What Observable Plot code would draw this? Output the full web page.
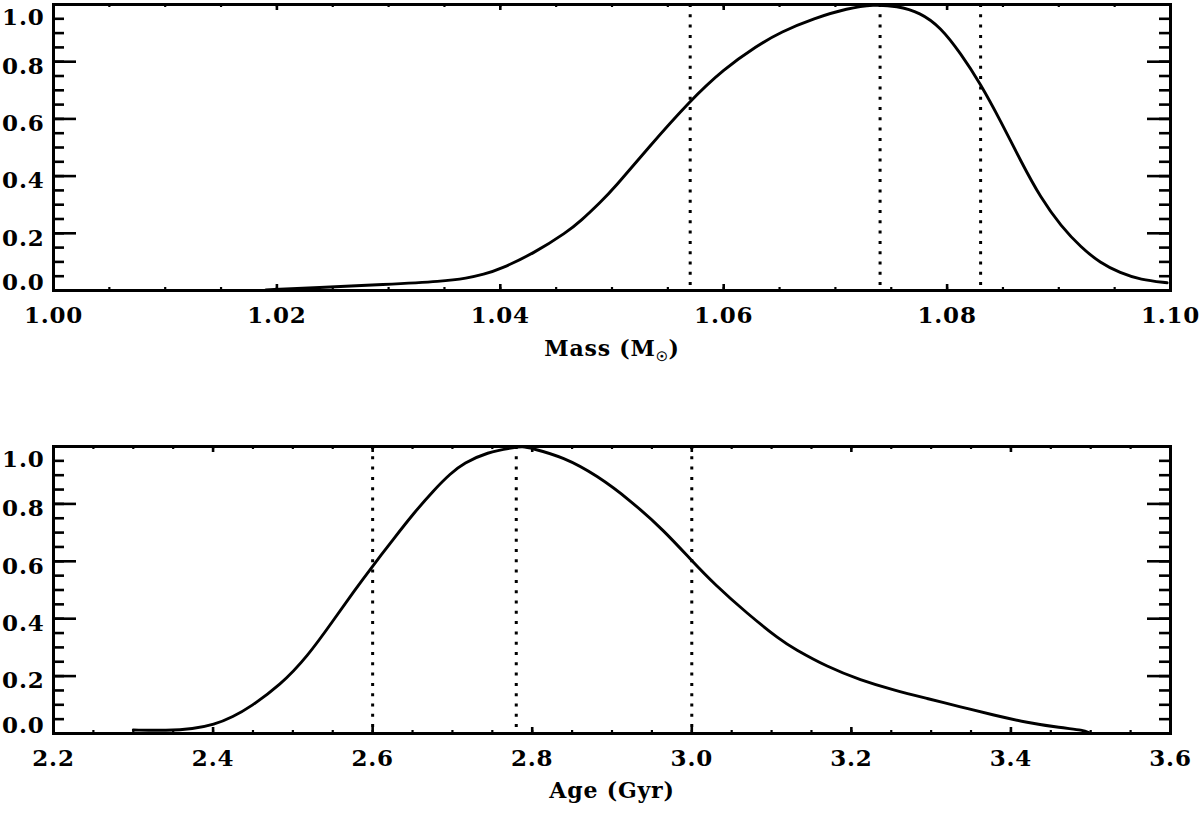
<!DOCTYPE html>
<html>
<head>
<meta charset="utf-8">
<script src="https://cdn.jsdelivr.net/npm/d3@7"></script>
<script src="https://cdn.jsdelivr.net/npm/@observablehq/plot@0.6"></script>
<style>
  html, body { margin: 0; padding: 0; background: #fff; }
  #chart { width: 1200px; }
  #chart svg { display: block; }
  #chart svg text { letter-spacing: 0.8px; }
</style>
</head>
<body>
<div id="chart"></div>
<script>
// ---- Data ----
const massX = [1.019, 1.0236, 1.0296, 1.0349, 1.0370, 1.0385, 1.0400, 1.0430, 1.0460, 1.0472, 1.0490, 1.0502, 1.0532, 1.0570, 1.0600, 1.0630, 1.0651, 1.0681, 1.0711, 1.0734, 1.0755, 1.0776, 1.0794, 1.0812, 1.0830, 1.0848, 1.0866, 1.0884, 1.0902, 1.0920, 1.0937, 1.0955, 1.0973, 1.0997];
const massY = [0.002, 0.010, 0.021, 0.032, 0.043, 0.056, 0.075, 0.130, 0.205, 0.243, 0.310, 0.358, 0.497, 0.664, 0.774, 0.856, 0.904, 0.952, 0.987, 1.000, 0.995, 0.972, 0.921, 0.830, 0.722, 0.592, 0.452, 0.322, 0.225, 0.150, 0.097, 0.061, 0.038, 0.027];
const massMarkers = [1.057, 1.074, 1.083];

const ageX = [2.300, 2.3425, 2.375, 2.401, 2.425, 2.447, 2.4845, 2.518, 2.551, 2.576, 2.6007, 2.6265, 2.6516, 2.6767, 2.6976, 2.7142, 2.7435, 2.7769, 2.7880, 2.7978, 2.8395, 2.8813, 2.9231, 2.9649, 2.9996, 3.0276, 3.0694, 3.1112, 3.1279, 3.1697, 3.2114, 3.2532, 3.295, 3.3367, 3.3785, 3.4203, 3.462, 3.4913, 3.4976];
const ageY = [0.012, 0.010, 0.016, 0.030, 0.058, 0.093, 0.169, 0.267, 0.395, 0.494, 0.586, 0.679, 0.768, 0.848, 0.906, 0.942, 0.980, 0.997, 1.000, 0.995, 0.963, 0.899, 0.812, 0.708, 0.603, 0.522, 0.418, 0.325, 0.296, 0.232, 0.186, 0.151, 0.122, 0.093, 0.064, 0.038, 0.020, 0.012, 0.003];
const ageMarkers = [2.60, 2.78, 3.00];

const massTicks = [1.00, 1.02, 1.04, 1.06, 1.08, 1.10];
const massMinorStep = 0.005;
const ageTicks = [2.2, 2.4, 2.6, 2.8, 3.0, 3.2, 3.4, 3.6];
const ageMinorStep = 0.05;
const yTicks = [0.0, 0.2, 0.4, 0.6, 0.8, 1.0];
const yMinorStep = 0.05;

const massLabel = "Mass (M\u2609)";
const ageLabel = "Age (Gyr)";

// ---- Drawing ----
const FONT = "DejaVu Serif";
const W = 1200, ML = 53, MR = 30;
const innerW = W - ML - MR;

function minorTicks(domain, step) {
  const n = Math.round((domain[1] - domain[0]) / step);
  return d3.range(n + 1).map(i => +(domain[0] + i * step).toFixed(6));
}

function panel({xs, ys, markers, xDomain, xMajor, xStep, xFmt, label, height, marginTop, marginBottom, labelDy, titleDy}) {
  const H = height - marginTop - marginBottom;
  const data = xs.map((x, i) => ({x, y: ys[i]}));
  const xMinor = minorTicks(xDomain, xStep);
  const yMinor = minorTicks([0, 1], yMinorStep);
  const majX = 6, minX = 3, majY = 23, minY = 11;
  const txt = {fontFamily: FONT, fontWeight: "bold", fontSize: 23, fill: "black"};
  return Plot.plot({
    width: W, height, marginTop, marginBottom, marginLeft: ML, marginRight: MR,
    x: {domain: xDomain, axis: null},
    y: {domain: [0, 1], axis: null},
    style: {background: "white", overflow: "visible"},
    marks: [
      Plot.ruleX(markers, {x: d => d, stroke: "black", strokeWidth: 3, strokeDasharray: "3,7.3"}),
      Plot.line(data, {x: "x", y: "y", curve: "basis", stroke: "black", strokeWidth: 2.9}),
      // x ticks bottom & top
      Plot.ruleX(xMinor, {x: d => d, insetTop: H - minX, stroke: "black", strokeWidth: 2.2}),
      Plot.ruleX(xMinor, {x: d => d, insetBottom: H - minX, stroke: "black", strokeWidth: 2.2}),
      Plot.ruleX(xMajor, {x: d => d, insetTop: H - majX, stroke: "black", strokeWidth: 2.6}),
      Plot.ruleX(xMajor, {x: d => d, insetBottom: H - majX, stroke: "black", strokeWidth: 2.6}),
      // y ticks left & right
      Plot.ruleY(yMinor, {y: d => d, insetRight: innerW - minY, stroke: "black", strokeWidth: 2.6}),
      Plot.ruleY(yMinor, {y: d => d, insetLeft: innerW - minY, stroke: "black", strokeWidth: 2.6}),
      Plot.ruleY(yTicks, {y: d => d, insetRight: innerW - majY, stroke: "black", strokeWidth: 2.6}),
      Plot.ruleY(yTicks, {y: d => d, insetLeft: innerW - majY, stroke: "black", strokeWidth: 2.6}),
      Plot.frame({stroke: "black", strokeWidth: 3}),
      // x tick labels
      Plot.text(xMajor, {x: d => d, frameAnchor: "bottom", dy: labelDy, text: xFmt, ...txt}),
      // y tick labels
      Plot.text(yTicks.filter(d => d > 0 && d < 1), {y: d => d, frameAnchor: "left", dx: -9, dy: 5, textAnchor: "end", text: d => d.toFixed(1), ...txt}),
      Plot.text(yTicks.filter(d => d === 1), {y: d => d, frameAnchor: "left", dx: -9, dy: 13, textAnchor: "end", text: d => d.toFixed(1), ...txt}),
      Plot.text(yTicks.filter(d => d === 0), {y: d => d, frameAnchor: "left", dx: -9, dy: -8, textAnchor: "end", text: d => d.toFixed(1), ...txt}),
      // axis title
      Plot.text([label], {frameAnchor: "bottom", dy: titleDy, text: d => d, ...txt, fontSize: 22})
    ]
  });
}

const massPlot = panel({
  xs: massX, ys: massY, markers: massMarkers,
  xDomain: [1.00, 1.10], xMajor: massTicks, xStep: massMinorStep, xFmt: d => d.toFixed(2),
  label: massLabel, height: 400, marginTop: 4, marginBottom: 110, labelDy: 32, titleDy: 65
});
const agePlot = panel({
  xs: ageX, ys: ageY, markers: ageMarkers,
  xDomain: [2.2, 3.6], xMajor: ageTicks, xStep: ageMinorStep, xFmt: d => d.toFixed(1),
  label: ageLabel, height: 417, marginTop: 46, marginBottom: 84, labelDy: 32, titleDy: 64
});

// Render solar symbol as a subscript
d3.select(massPlot).selectAll("text").each(function() {
  if (this.textContent === massLabel) {
    const t = d3.select(this);
    t.text(null);
    t.append("tspan").text("Mass (M");
    t.append("tspan").attr("font-size", 13).attr("dy", 5).text("\u2609");
    t.append("tspan").attr("dy", -5).text(")");
  }
});

document.getElementById("chart").append(massPlot, agePlot);
</script>
</body>
</html>
